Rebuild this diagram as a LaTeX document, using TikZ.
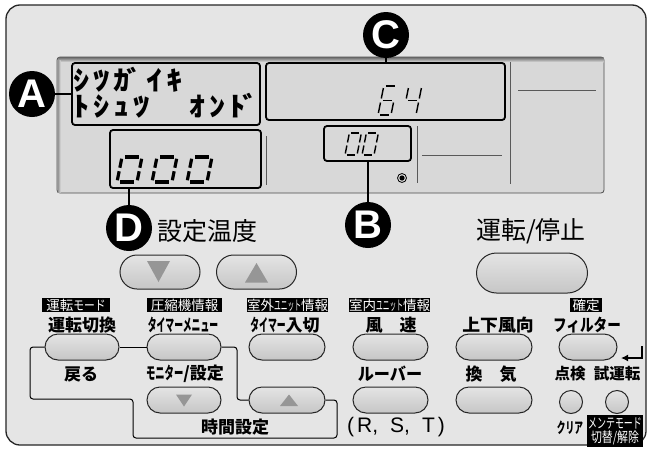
\documentclass[tikz,border=0pt]{standalone}
\usepackage{fontspec}
\usepackage{graphicx}
\newfontfamily\jp{Noto Sans CJK JP}
\newfontfamily\lat{Liberation Sans}
\usetikzlibrary{shapes.misc,shapes.geometric,arrows.meta}

\definecolor{panel}{RGB}{229,229,229}
\definecolor{lcd}{RGB}{216,216,216}
\definecolor{btnhi}{RGB}{228,228,228}
\definecolor{btnlo}{RGB}{198,198,198}
\definecolor{tri}{RGB}{150,150,150}

\newcommand\sx[2]{\scalebox{#1}[1]{#2}}
% seven segment pieces (unit digit, bottom-left origin, y negative = up)
\newcommand\dsega{\draw[sgline] (0.16,-1) -- (0.84,-1);}
\newcommand\dsegb{\draw[sgline] (1,-0.93) -- (1,-0.57);}
\newcommand\dsegc{\draw[sgline] (1,-0.43) -- (1,-0.07);}
\newcommand\dsegd{\draw[sgline] (0.16,0) -- (0.84,0);}
\newcommand\dsege{\draw[sgline] (0,-0.43) -- (0,-0.07);}
\newcommand\dsegf{\draw[sgline] (0,-0.93) -- (0,-0.57);}
\newcommand\dsegg{\draw[sgline] (0.16,-0.5) -- (0.84,-0.5);}
\newcommand\sevseg[6]{\def\sgw{#6}%
  \begin{scope}[shift={(#1,#2)},xslant=0.2,xscale=#3,yscale=#4]
  \foreach \s in {#5}{\csname dseg\s\endcsname}
  \end{scope}}
% LCD dot-matrix cells
\newcommand\pc[1]{\makebox[20pt][l]{\sx{1.2}{#1}}}
\newcommand\pd[1]{\makebox[13pt][l]{\sx{1.2}{#1}}}

\tikzset{
  sgline/.style={line width=\sgw, line cap=butt, draw=black},
  lcdbox/.style={draw=black, line width=1.8pt, rounded corners=3pt, inner sep=0pt},
  lcdline/.style={draw=black!65, line width=0.9pt},
  callout/.style={circle, fill=black, minimum size=46pt, inner sep=0pt, text=white,
    font=\lat\bfseries\fontsize{40}{40}\selectfont},
  conn/.style={line width=1.6pt, draw=black},
  btn/.style={rounded rectangle, draw=black!85, line width=1pt, top color=btnhi,
    bottom color=btnlo, inner sep=0pt},
  rbtn/.style={circle, draw=black!85, line width=1pt, top color=btnhi,
    bottom color=btnlo, inner sep=0pt, minimum size=23pt},
  blk/.style={fill=black, text=white, inner sep=0pt, minimum height=14pt,
    font=\jp\fontsize{13.5}{13.5}\selectfont},
  lbl/.style={inner sep=0pt, font=\jp\bfseries\fontsize{17}{17}\selectfont},
  big/.style={inner sep=0pt, font=\jp\fontsize{25}{25}\selectfont},
  lcdtxt/.style={inner sep=0pt, anchor=west, font=\jp\bfseries\fontsize{27}{27}\selectfont},
  bline/.style={line width=1pt, draw=black, rounded corners=3pt},
}

\begin{document}
\begin{tikzpicture}[x=1pt,y=-1pt]
\useasboundingbox (0,0) rectangle (650,450);
\fill[white] (0,0) rectangle (650,450);
\draw[rounded corners=14pt, line width=1.3pt, draw=black!85, fill=panel] (6,5) rectangle (646,445);

% LCD
\draw[rounded corners=3pt, line width=0.8pt, draw=black!70, fill=lcd] (57,57) rectangle (604,193);
\shade[top color=black!55, bottom color=lcd] (58,57.6) rectangle (603.4,62);
\shade[left color=black!45, right color=lcd] (57.6,60) rectangle (60.5,192);

\node[lcdbox, minimum width=188pt, minimum height=62pt] (boxA) at (166,94) {};
\node[lcdbox, minimum width=239pt, minimum height=57pt] (boxC) at (385.5,91.5) {};
\node[lcdbox, minimum width=151pt, minimum height=58pt] (boxD) at (185.5,159) {};
\node[lcdbox, minimum width=87pt, minimum height=35pt] (boxB) at (367.5,143.5) {};

\draw[lcdline] (266,136) -- (266,185);
\draw[lcdline] (417,126) -- (417,183);
\draw[lcdline] (510,62) -- (510,184);
\draw[lcdline] (518,90) -- (596,90);
\draw[lcdline] (422,155) -- (502,155);
\node[circle, draw=black, line width=0.8pt, inner sep=0pt, minimum size=9pt] (dot) at (402,178) {};
\fill (dot.center) circle (2.6);

\node[lcdtxt] (t1) at (73,80) {\pc{ｼ}\pc{ﾂ}\pd{ｶ}\pc{ﾞ}\pc{ｲ}\pc{ｷ}};
\node[lcdtxt] (t2) at (73,106) {\pc{ﾄ}\pc{ｼ}\pc{ｭ}\pc{ﾂ}\makebox[36pt]{}\pc{ｵ}\pc{ﾝ}\pd{ﾄ}\pc{ﾞ}};

\sevseg{378}{115}{13}{29}{a,c,d,e,f,g}{1.4pt}
\sevseg{403}{115}{13}{29}{b,c,f,g}{1.4pt}
\sevseg{345}{155}{12}{22}{a,b,c,d,e,f}{1.4pt}
\sevseg{362}{155}{12}{22}{a,b,c,d,e,f}{1.4pt}
\sevseg{117}{182}{20}{25}{a,b,c,d,e,f}{3.2pt}
\sevseg{152}{182}{20}{25}{a,b,c,d,e,f}{3.2pt}
\sevseg{187}{182}{20}{25}{a,b,c,d,e,f}{3.2pt}

% callouts
\node[callout] (A) at (32,94) {A};
\node[callout] (C) at (386,35) {C};
\node[callout] (D) at (129,228) {D};
\node[callout] (B) at (368,225) {B};
\draw[conn] (A.east) -- (boxA.west);
\draw[conn] (C.south) -- (C |- boxC.north);
\draw[conn] (D.north) -- (D |- boxD.south);
\draw[conn] (B.north) -- (B |- boxB.south);

% big labels
\node[big] (sett) at (207,231) {設定温度};
\node[big] (unten) at (531,231) {運転/停止};

% top buttons
\node[btn, minimum width=80pt, minimum height=34pt] (tdown) at (160,272) {};
\node[btn, minimum width=80pt, minimum height=34pt] (tup) at (256.5,272) {};
\node[btn, minimum width=111pt, minimum height=40pt] (run) at (532,273) {};
\fill[tri] ([shift={(-13,-11)}]tdown.center) -- ([shift={(10,-11)}]tdown.center) -- ([shift={(-1.5,10)}]tdown.center) -- cycle;
\fill[tri] ([shift={(0,-9)}]tup.center) -- ([shift={(11.5,10.5)}]tup.center) -- ([shift={(-11.5,10.5)}]tup.center) -- cycle;

% black function labels
\node[blk, minimum width=68pt] (lm1) at (76,305) {運転\sx{0.8}{モード}};
\node[blk, minimum width=75pt] (lm2) at (184.5,305) {圧縮機情報};
\node[blk, minimum width=75pt] (lm3) at (287.5,305) {室外\sx{0.5}{ユニット}情報};
\node[blk, minimum width=75pt] (lm4) at (389.5,305) {室内\sx{0.5}{ユニット}情報};
\node[blk, minimum width=32pt] (lm5) at (586,305) {確定};

% row 2 labels
\node[lbl] (l1) at (82,325) {運転切換};
\node[lbl] (l2) at (183,325) {\sx{0.52}{タイマーメニュー}};
\node[lbl] (l3) at (285,325) {\sx{0.52}{タイマー}入切};
\node[lbl] (l4) at (391,325) {風　速};
\node[lbl] (l5) at (498,325) {\sx{1.05}{上下風向}};
\node[lbl] (l6) at (587,325) {\sx{0.8}{フィルター}};

% row 2 buttons
\node[btn, minimum width=74pt, minimum height=26pt] (b1) at (82,347) {};
\node[btn, minimum width=74pt, minimum height=26pt] (b2) at (184,347) {};
\node[btn, minimum width=76pt, minimum height=26pt] (b3) at (287,347) {};
\node[btn, minimum width=75pt, minimum height=26pt] (bfs) at (390.5,347) {};
\node[btn, minimum width=76pt, minimum height=26pt] (bud) at (494,347) {};
\node[btn, minimum width=58pt, minimum height=26pt] (bfl) at (588,347) {};

% enter arrow
\coordinate (ea) at (642,346);
\coordinate (eb) at (621,358);
\draw[line width=1.5pt, -{Latex[length=7pt,width=7pt]}] (ea) |- (eb);

% row 3 labels
\node[lbl] (l7) at (81,374) {戻る};
\node[lbl] (l8) at (185,374) {\sx{0.55}{モニター}/設定};
\node[lbl] (l9) at (390,374) {\sx{0.95}{ルーバー}};
\node[lbl] (l10) at (491,374) {換　気};
\node[lbl, font=\jp\bfseries\fontsize{15.5}{15.5}\selectfont] (l11) at (570,374) {点検};
\node[lbl, font=\jp\bfseries\fontsize{15.5}{15.5}\selectfont] (l12) at (617,374) {試運転};

% row 4 buttons
\node[btn, minimum width=74pt, minimum height=26pt] (bdn) at (184,400) {};
\node[btn, minimum width=76pt, minimum height=26pt] (bup) at (287,400) {};
\node[btn, minimum width=75pt, minimum height=26pt] (blv) at (390.5,400) {};
\node[btn, minimum width=76pt, minimum height=26pt] (bkk) at (494,400) {};
\node[rbtn] (c1) at (571,402) {};
\node[rbtn] (c2) at (617,402) {};
\fill[tri] ([shift={(-8,-5.5)}]bdn.center) -- ([shift={(8,-5.5)}]bdn.center) -- ([shift={(0,6.5)}]bdn.center) -- cycle;
\fill[tri] ([shift={(2,-5.5)}]bup.center) -- ([shift={(11,6)}]bup.center) -- ([shift={(-7,6)}]bup.center) -- cycle;

% bracket lines
\draw[bline] (b1.west) -- (30,347) -- (30,399) -- (133,399) -- (133,438) -- (337,438) -- (337,400) -- (bup.east);
\draw[bline] (b1.east) -- (b2.west);
\draw[bline] (b2.east) -- (237,347) -- (237,400) -- (bup.west);

% bottom labels
\node[lbl] (l13) at (235,427) {時間設定};
\node[inner sep=0pt, font=\lat\fontsize{21}{21}\selectfont] (rst) at (396,427) {(\hspace{3pt}R,\hspace{12pt}S,\hspace{12pt}T\hspace{3pt})};
\node[lbl, font=\jp\bfseries\fontsize{15}{15}\selectfont] (cl) at (570,428) {\sx{0.58}{クリア}};
\node[fill=black, text=white, inner sep=0pt, minimum width=56pt, minimum height=32pt, align=center,
  font=\jp\fontsize{14}{14}\selectfont] (mt) at (615,431) {\sx{0.64}{メンテモード}\\\sx{0.78}{切替/解除}};
\end{tikzpicture}
\end{document}
